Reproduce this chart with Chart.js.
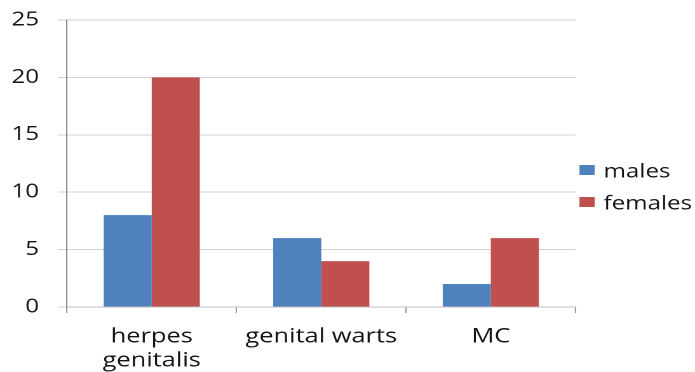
<!DOCTYPE html>
<html>
<head>
<meta charset="utf-8">
<script src="https://cdn.jsdelivr.net/npm/chart.js@4"></script>
<style>
  html, body { margin: 0; padding: 0; background: #ffffff; overflow: hidden; }
  /* The chart is laid out narrower and widened horizontally, giving the wide lettering */
  #wrap {
    width: 547px; height: 372px; position: relative;
    transform: scaleX(1.2706); transform-origin: 0 0;
  }
</style>
</head>
<body>
<div id="wrap"><canvas id="c"></canvas></div>
<script>
// Cases per diagnosis, split by sex
const categories = [["herpes", "genitalis"], "genital warts", "MC"];
const males = [8, 6, 2];
const females = [20, 4, 6];
const yTicks = [0, 5, 10, 15, 20, 25];

const FONT = "'Open Sans', 'DejaVu Sans', sans-serif";
const BLUE = "#4F81BD";
const RED = "#C0504D";
const TEXT = "#141414";

// Legend drawn to the right of the plot, small blocks with labels
const sideLegend = {
  id: "sideLegend",
  afterDraw(chart) {
    const ctx = chart.ctx;
    const area = chart.chartArea;
    const x0 = area.right + 3;
    const yStart = 170;
    const gap = 32;
    ctx.save();
    ctx.font = "19px " + FONT;
    ctx.textBaseline = "middle";
    chart.data.datasets.forEach((ds, i) => {
      const y = yStart + i * gap;
      ctx.fillStyle = ds.backgroundColor;
      ctx.fillRect(x0, y - 5, 12, 10);
      ctx.fillStyle = TEXT;
      ctx.fillText(ds.label, x0 + 19, y + 2);
    });
    ctx.restore();
  }
};

new Chart(document.getElementById("c"), {
  type: "bar",
  data: {
    labels: categories,
    datasets: [
      { label: "males", data: males, backgroundColor: BLUE },
      { label: "females", data: females, backgroundColor: RED }
    ]
  },
  options: {
    responsive: true,
    maintainAspectRatio: false,
    animation: false,
    devicePixelRatio: 2,
    layout: { padding: { top: 20, right: 94, left: 0, bottom: 0 } },
    plugins: {
      legend: { display: false },
      tooltip: { enabled: false }
    },
    datasets: {
      bar: { categoryPercentage: 0.567, barPercentage: 1.0 }
    },
    scales: {
      x: {
        grid: {
          offset: true,
          drawOnChartArea: false,
          drawTicks: true,
          tickLength: 6,
          color: "#9a9a9a"
        },
        border: { color: "#bdbdbd" },
        ticks: {
          color: TEXT,
          font: { family: FONT, size: 20, lineHeight: 1.2 },
          padding: 12,
          maxRotation: 0
        },
        afterFit(scale) {
          scale.height = 65;
          scale.paddingLeft = 0;
          scale.paddingRight = 0;
        }
      },
      y: {
        min: 0,
        max: 25,
        afterBuildTicks(scale) { scale.ticks = yTicks.map(v => ({ value: v })); },
        grid: {
          color: "#d0d0d0",
          tickLength: 7,
          drawTicks: true
        },
        border: { color: "#8c8c8c" },
        ticks: {
          color: TEXT,
          font: { family: FONT, size: 19 },
          padding: 15
        },
        afterFit(scale) {
          scale.width = 52.7;
          scale.paddingTop = 0;
          scale.paddingBottom = 0;
        }
      }
    }
  },
  plugins: [sideLegend]
});
</script>
</body>
</html>
